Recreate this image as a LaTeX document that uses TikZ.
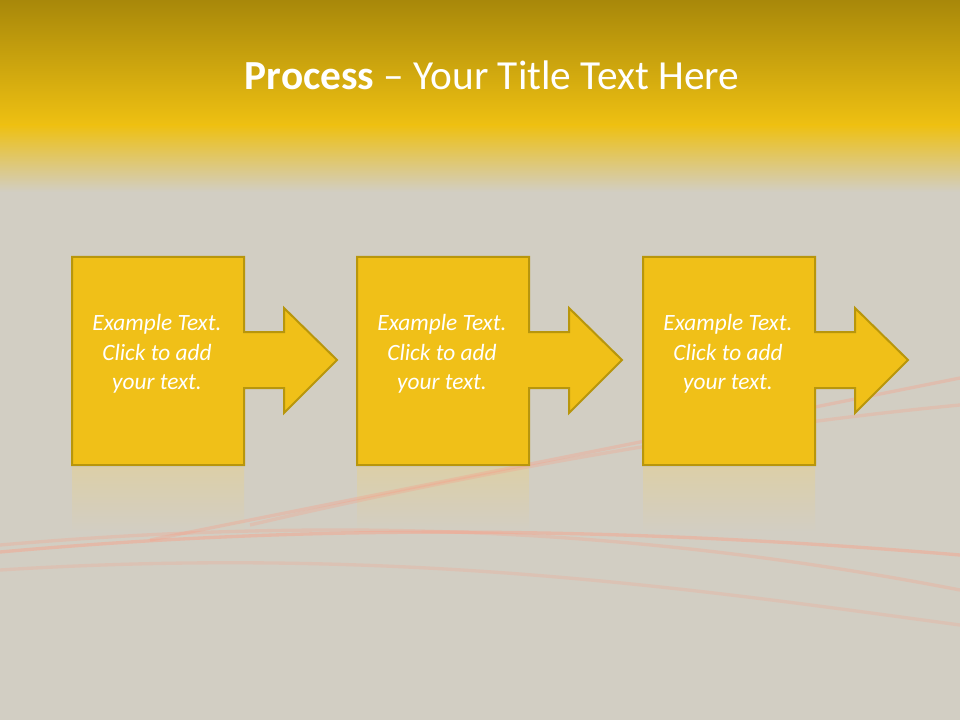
\documentclass[tikz,border=0pt]{standalone}
\usepackage{fontspec}
\setmainfont{Carlito}
\definecolor{bg}{HTML}{D2CEC3}
\definecolor{topd}{HTML}{A8880A}
\definecolor{topl}{HTML}{EEC012}
\definecolor{boxf}{HTML}{F0C018}
\definecolor{boxe}{HTML}{B8960C}
\definecolor{streak}{HTML}{F8A088}
\definecolor{refl}{HTML}{DCCFA8}
\tikzset{
  procshape/.style={fill=boxf,draw=boxe,line width=1.5pt,line join=miter},
  reflect/.style={top color=refl,bottom color=bg},
  ptext/.style={text=white,font=\itshape\fontsize{17.5}{22}\selectfont,align=center},
  streakline/.style={draw=streak,line width=2.5pt,opacity=0.45}
}
\begin{document}
\begin{tikzpicture}[x=0.75pt,y=-0.75pt]
\useasboundingbox (0,0) rectangle (960,720);
\fill[bg] (0,0) rectangle (960,720);
\shade[top color=topd,bottom color=topl] (0,0) rectangle (960,125);
\shade[top color=topl,bottom color=bg] (0,125) rectangle (960,192);
\foreach \x in {72,357,643}{
  \shade[reflect] (\x,467) rectangle +(172,65);
}
% streaks
\draw[streakline] (0,552) .. controls (300,525) and (600,525) .. (960,555);
\draw[streakline,opacity=0.3] (0,545) .. controls (350,515) and (650,530) .. (960,590);
\draw[streakline,opacity=0.35] (150,540) .. controls (500,470) and (750,420) .. (960,378);
\draw[streakline,opacity=0.3] (250,525) .. controls (550,455) and (800,420) .. (960,405);
\draw[streakline,opacity=0.25] (0,570) .. controls (400,545) and (700,590) .. (960,625);
\node[text=white,font=\fontsize{31}{36}\selectfont] (title) at (492,75) {\textbf{Process} – Your Title Text Here};
\foreach \i/\x in {1/72,2/357,3/643}{
  \draw[procshape] (\x,257) -- ++(172,0) -- ++(0,75) -- ++(40,0) -- ++(0,-24)
     -- ++(53,52) -- ++(-53,53) -- ++(0,-25) -- ++(-40,0) -- ++(0,77) -- ++(-172,0) -- cycle;
  \node[ptext] (t\i) at (\x+85,354) {Example Text.\\Click to add\\your text.};
}
\end{tikzpicture}
\end{document}
